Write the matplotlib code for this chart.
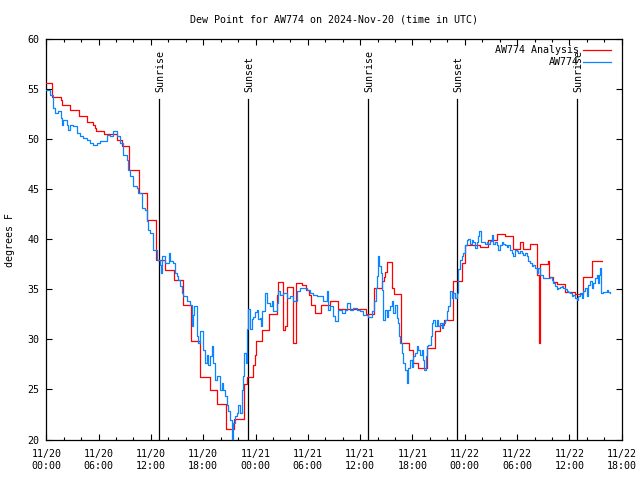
import numpy as np
import matplotlib
matplotlib.use('Agg')
from matplotlib import pyplot as plt

# hours since 2024-11-20 00:00 UTC, values in degrees F
red_hours = [0, 0.69, 1.65, 1.75, 2.72, 3.75, 4.7, 5.4, 5.55, 5.67,
             6.65, 8.14, 8.65, 9.52, 10.6, 11.6, 12.58, 13.6, 14.65, 15.65,
             16.6, 17.63, 18.78, 19.6, 20.6, 21.57, 22.68, 22.98, 23.67, 23.9,
             24.02, 24.71, 25.58, 26.47, 26.58, 27.1, 27.38, 27.65, 28.33, 28.6,
             29.3, 29.8, 30.1, 30.4, 30.8, 31.5, 32.5, 33.5, 36.64, 37.62,
             38.54, 38.73, 38.85, 39.1, 39.6, 39.9, 40.65, 41.6, 42.1, 42.67,
             43.63, 44.6, 45.16, 45.62, 46.6, 47.65, 48.03, 49.7, 50.7, 51.66,
             52.6, 53.57, 54.3, 54.65, 55.5, 56.3, 56.52, 56.68, 57.6, 57.65,
             58.16, 58.55, 59.5, 60.64, 61.6, 62.55, 63.7]
red_vals = [55.6, 54.2, 53.9, 53.4, 52.9, 52.3, 51.7, 51.4, 51.1, 50.8,
            50.5, 49.9, 49.3, 46.9, 44.6, 41.9, 37.9, 36.9, 35.9, 33.4,
            29.8, 26.2, 24.9, 23.5, 21.0, 22.0, 25.5, 26.2, 27.4, 28.4,
            29.8, 30.9, 32.5, 34.4, 35.7, 30.9, 31.3, 35.2, 29.6, 35.6,
            35.4, 34.9, 34.4, 33.4, 32.6, 33.4, 33.8, 33.0, 32.5, 35.1,
            35.8, 36.2, 36.7, 37.7, 35.1, 34.5, 29.6, 28.9, 27.6, 27.1,
            29.1, 30.8, 31.4, 31.9, 35.8, 37.6, 39.4, 39.2, 39.9, 40.5,
            40.3, 39.0, 39.7, 39.0, 39.5, 36.4, 29.6, 37.5, 37.8, 36.2,
            35.7, 35.5, 34.7, 34.5, 36.2, 37.8, 37.8]

blue_hours = [0, 0.42, 0.8, 1.0, 1.38, 1.65, 1.75, 1.95, 2.34, 2.52,
              2.72, 3.1, 3.49, 3.87, 4.24, 4.63, 5.01, 5.39, 5.78, 6.16,
              6.54, 6.93, 7.31, 7.69, 8.08, 8.45, 8.83, 9.22, 9.41, 9.6,
              9.98, 10.37, 10.55, 10.94, 11.32, 11.52, 11.7, 11.89, 12.27, 12.66,
              13.04, 13.15, 13.25, 13.62, 14.1, 14.19, 14.57, 14.76, 14.96, 15.14,
              15.34, 15.53, 15.71, 16.1, 16.48, 16.68, 16.86, 16.95, 17.25, 17.44,
              17.63, 18.01, 18.2, 18.4, 18.58, 18.78, 18.97, 19.16, 19.35, 19.55,
              19.92, 20.12, 20.3, 20.5, 20.69, 20.88, 21.07, 21.27, 21.35, 21.45,
              21.65, 21.84, 22.02, 22.22, 22.41, 22.6, 22.68, 22.91, 23.06, 23.17,
              23.37, 23.56, 23.74, 23.94, 24.13, 24.32, 24.51, 24.6, 24.74, 25.08,
              25.28, 25.66, 25.85, 26.04, 26.43, 26.61, 26.81, 27.19, 27.58, 27.96,
              28.33, 28.72, 29.1, 29.48, 29.87, 30.25, 30.63, 31.02, 31.39, 31.77,
              32.16, 32.35, 32.54, 32.92, 33.12, 33.49, 33.88, 34.26, 34.46, 34.84,
              35.21, 35.6, 35.98, 36.36, 36.75, 36.93, 37.33, 37.59, 37.78, 37.9,
              38.08, 38.2, 38.36, 38.47, 38.59, 38.66, 38.85, 39.05, 39.23, 39.42,
              39.62, 39.8, 40.0, 40.19, 40.38, 40.49, 40.57, 40.77, 40.95, 41.14,
              41.34, 41.52, 41.72, 41.91, 42.1, 42.29, 42.49, 42.67, 42.87, 43.06,
              43.24, 43.36, 43.52, 43.63, 43.82, 44.09, 44.21, 44.39, 44.59, 44.78,
              44.96, 45.16, 45.35, 45.54, 45.73, 45.93, 46.11, 46.31, 46.5, 46.69,
              46.88, 47.07, 47.19, 47.26, 47.45, 47.65, 47.83, 48.03, 48.22, 48.41,
              48.6, 48.79, 48.98, 49.17, 49.37, 49.55, 49.67, 49.83, 50.13, 50.32,
              50.52, 50.7, 50.9, 51.09, 51.27, 51.47, 51.66, 51.85, 52.04, 52.24,
              52.42, 52.62, 52.81, 52.99, 53.19, 53.38, 53.57, 53.76, 53.96, 54.14,
              54.34, 54.53, 54.71, 54.91, 55.1, 55.29, 55.48, 55.68, 55.86, 56.06,
              56.25, 56.44, 56.63, 57.01, 57.4, 57.78, 57.97, 58.16, 58.35, 58.55,
              58.73, 58.92, 59.12, 59.3, 59.5, 59.69, 59.87, 60.07, 60.26, 60.45,
              60.64, 60.84, 61.02, 61.22, 61.41, 61.6, 61.79, 61.98, 62.17, 62.36,
              62.56, 62.74, 62.94, 63.13, 63.32, 63.43, 63.51, 63.63, 63.89, 64.28,
              64.46, 64.66]
blue_vals = [54.9, 54.4, 53.1, 52.6, 52.8, 52.1, 51.4, 51.9, 51.4, 50.9,
             51.4, 51.3, 50.6, 50.3, 50.1, 49.9, 49.6, 49.4, 49.6, 49.8,
             49.8, 50.4, 50.3, 50.8, 50.3, 49.6, 48.4, 47.9, 46.9, 46.3,
             45.3, 45.1, 44.6, 43.1, 42.9, 41.8, 40.9, 40.6, 38.9, 37.9,
             37.4, 36.6, 38.3, 37.6, 38.6, 37.8, 37.6, 36.6, 36.3, 35.9,
             35.3, 34.6, 34.3, 33.8, 33.4, 31.3, 32.4, 33.3, 30.3, 29.6,
             30.8, 28.9, 27.6, 28.4, 27.4, 28.3, 29.3, 27.6, 25.9, 26.3,
             24.9, 25.6, 24.9, 24.3, 23.4, 22.8, 21.9, 20.9, 20.0, 21.6,
             22.3, 22.6, 23.4, 22.6, 24.9, 26.3, 28.6, 27.6, 31.0, 33.0,
             31.0, 32.0, 32.2, 32.7, 32.9, 32.0, 32.1, 31.3, 32.8, 34.6,
             33.6, 33.3, 33.8, 32.8, 33.6, 34.8, 34.4, 34.6, 34.1, 34.3,
             33.8, 34.8, 35.1, 35.1, 34.9, 34.6, 34.4, 34.3, 34.3, 33.8,
             34.8, 32.9, 33.3, 32.3, 31.8, 32.9, 32.6, 32.9, 33.6, 32.9,
             33.1, 32.9, 32.8, 32.4, 32.4, 32.2, 32.8, 33.8, 35.1, 36.3,
             38.3, 37.3, 36.6, 34.9, 33.3, 31.9, 32.9, 32.2, 32.9, 33.3,
             33.8, 32.6, 33.4, 32.1, 31.6, 30.3, 29.6, 28.6, 27.6, 26.9,
             25.6, 27.1, 27.9, 27.2, 28.3, 28.6, 29.3, 28.9, 28.4, 28.9,
             27.9, 26.9, 28.3, 29.3, 29.4, 30.3, 31.6, 31.9, 31.3, 31.9,
             31.3, 31.6, 31.1, 31.6, 31.9, 32.8, 33.3, 34.8, 34.1, 34.6,
             34.1, 34.6, 35.3, 37.0, 37.9, 38.3, 38.6, 39.4, 39.9, 40.0,
             39.5, 39.9, 39.7, 39.1, 39.7, 40.3, 40.8, 39.7, 39.7, 39.5,
             39.7, 39.5, 39.8, 40.4, 39.5, 39.7, 39.4, 38.9, 39.4, 39.7,
             39.5, 39.4, 39.2, 39.4, 38.9, 38.6, 38.3, 38.9, 38.8, 38.6,
             38.8, 38.6, 38.4, 38.6, 38.3, 37.8, 37.6, 37.3, 37.4, 37.1,
             36.6, 37.1, 36.4, 36.1, 36.1, 36.2, 35.9, 35.6, 35.3, 35.0,
             35.1, 35.2, 35.3, 35.1, 35.0, 34.8, 34.7, 34.6, 34.3, 34.4,
             34.1, 33.9, 34.3, 34.6, 34.1, 34.8, 35.1, 34.3, 35.4, 35.8,
             35.1, 35.6, 36.1, 36.4, 35.6, 36.4, 37.1, 34.6, 34.7, 34.9,
             34.7, 34.6]

sun_hours = [12.95, 23.17, 36.93, 47.15, 60.91]
sun_names = ['Sunrise', 'Sunset', 'Sunrise', 'Sunset', 'Sunrise']

tick_hours = list(range(0, 67, 6))
tick_labels = ['11/20\n00:00', '11/20\n06:00', '11/20\n12:00', '11/20\n18:00',
               '11/21\n00:00', '11/21\n06:00', '11/21\n12:00', '11/21\n18:00',
               '11/22\n00:00', '11/22\n06:00', '11/22\n12:00', '11/22\n18:00']

assert len(red_hours) == len(red_vals)
assert len(blue_hours) == len(blue_vals)

plt.rcParams['font.family'] = ['DejaVu Sans Mono']
plt.rcParams['font.size'] = 7.2

fig = plt.figure(figsize=(6.4, 4.8), dpi=100)
ax = fig.add_axes([46.3/640, 40.5/480, 575.4/640, 400.2/480])

ax.plot(red_hours, red_vals, drawstyle='steps-post', color='#ff0000', lw=0.9, zorder=3)
ax.plot(blue_hours, blue_vals, drawstyle='steps-post', color='#0a84ff', lw=0.9, zorder=4)

# sunrise / sunset markers
for t, name in zip(sun_hours, sun_names):
    ax.plot([t, t], [20, 54.0], color='black', lw=0.9, zorder=2)
    ax.text(t + 0.1, 54.7, name, rotation=90, ha='center', va='bottom', fontsize=7.2)

ax.set_xlim(0, 66)
ax.set_ylim(20, 60)
ax.set_xticks(tick_hours)
ax.set_xticklabels(tick_labels, linespacing=1.25)
ax.set_xticks(range(0, 67, 2), minor=True)
ax.set_yticks(range(20, 61, 5))
ax.tick_params(which='both', direction='in', top=True, right=True, width=0.8)
ax.tick_params(which='major', length=4.5)
ax.tick_params(which='minor', length=2.2)
ax.tick_params(axis='x', pad=7)
ax.tick_params(axis='y', pad=5)
for s in ax.spines.values():
    s.set_linewidth(0.9)

# legend, gnuplot style (text right-aligned, sample on the right)
ax.text(0.925, 0.973, 'AW774 Analysis', transform=ax.transAxes, ha='right', va='center')
ax.plot([0.9327, 0.9814], [0.973, 0.973], transform=ax.transAxes, color='#ff0000', lw=0.9)
ax.text(0.925, 0.943, 'AW774', transform=ax.transAxes, ha='right', va='center')
ax.plot([0.9327, 0.9814], [0.943, 0.943], transform=ax.transAxes, color='#0a84ff', lw=0.9)

fig.text(334/640, 1 - 20/480, 'Dew Point for AW774 on 2024-Nov-20 (time in UTC)',
         ha='center', va='center')
fig.text(10/640, 1 - 240/480, 'degrees F', rotation=90, ha='center', va='center')

fig.savefig('out.png', dpi=100)
